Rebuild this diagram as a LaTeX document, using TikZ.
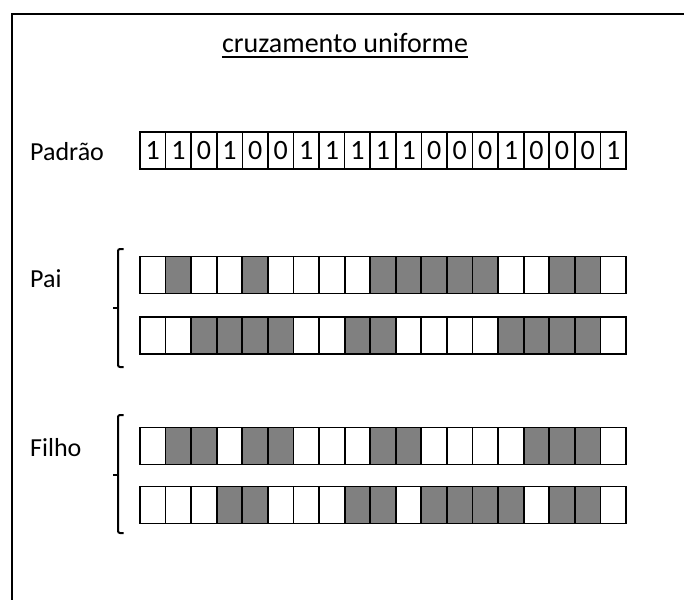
\documentclass[tikz,border=0pt]{standalone}
\usepackage{fontspec}
\setmainfont{Carlito}
\begin{document}
\begin{tikzpicture}[x=1pt,y=-1pt,
  cell/.style={draw, line width=1.8pt, minimum width=25.58pt, minimum height=37pt,
               inner sep=0pt, outer sep=0pt, font=\fontsize{28}{32}\selectfont},
  on-0/.style={fill=white},
  on-1/.style={fill=black!50},
  lbl/.style={anchor=base west, inner sep=0pt, font=\fontsize{26}{30}\selectfont},
  bracket/.style={line width=2pt, rounded corners=2pt}]
\useasboundingbox (0,0) rectangle (684,599);
\fill[white] (0,0) rectangle (684,599);
% page frame (only the top and left edges fall inside the picture)
\draw[line width=2.4pt] (12,620) -- (12,14) -- (700,14);

% title
\node[anchor=base, inner sep=0pt, font=\fontsize{28}{32}\selectfont] (title) at (345,53) {cruzamento uniforme};
\draw[line width=2pt] ([yshift=-4pt]title.base west) -- ([yshift=-4pt]title.base east);

% row labels
\node[lbl] (lpad) at (30,160) {Padrão};
\node[lbl] (lpai) at (30,287) {Pai};
\node[lbl] (lfil) at (30,456) {Filho};

% crossover mask
\foreach \d [count=\i] in {1,1,0,1,0,0,1,1,1,1,1,0,0,0,1,0,0,0,1}
  \node[cell, on-0, line width=1.6pt] (p-\i) at ({140+25.58*(\i-0.5)},150.5) {\d};

% parents
\foreach \v [count=\i] in {0,1,0,0,1,0,0,0,0,1,1,1,1,1,0,0,1,1,0}
  \node[cell, on-\v] (a-\i) at ({140+25.58*(\i-0.5)},275) {};
\foreach \v [count=\i] in {0,0,1,1,1,1,0,0,1,1,0,0,0,0,1,1,1,1,0}
  \node[cell, on-\v] (b-\i) at ({140+25.58*(\i-0.5)},335.5) {};

% offspring
\foreach \v [count=\i] in {0,1,1,0,1,1,0,0,0,1,1,0,0,0,0,1,1,1,0}
  \node[cell, on-\v] (c-\i) at ({140+25.58*(\i-0.5)},446) {};
\foreach \v [count=\i] in {0,0,0,1,1,0,0,0,1,1,0,1,1,1,1,0,1,1,0}
  \node[cell, on-\v] (d-\i) at ({140+25.58*(\i-0.5)},505) {};

% left brackets grouping each pair
\draw[bracket] (123.5,249) -- (118,249) -- (118,367) -- (123.5,367);
\draw[line width=2pt] (118,308) -- (113,308);
\draw[bracket] (123.5,415) -- (118,415) -- (118,533) -- (123.5,533);
\draw[line width=2pt] (118,475) -- (113,475);
\end{tikzpicture}
\end{document}
